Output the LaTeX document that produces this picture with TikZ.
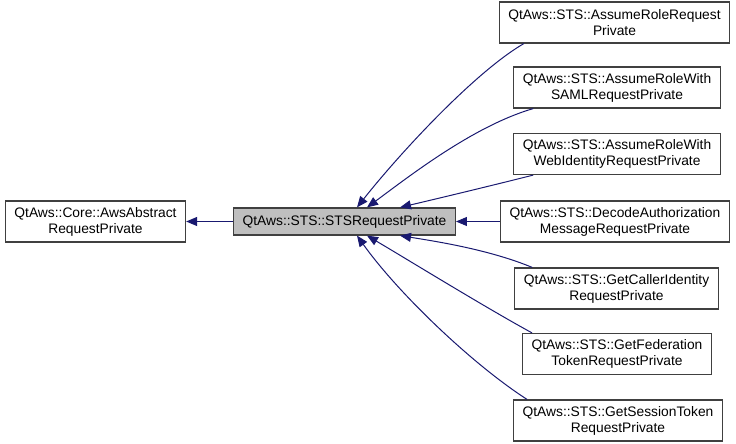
\documentclass[tikz,border=0pt]{standalone}
\usepackage{fontspec}
\setmainfont{Liberation Sans}
\usepackage{tikz}
\usetikzlibrary{arrows.meta}
\definecolor{edgeblue}{RGB}{25,25,112}
\tikzset{
    cls/.style={draw=black!75, line width=1.2pt, fill=white, align=center,
        inner xsep=9pt, inner ysep=2pt, minimum height=41pt,
        font=\fontsize{13.8}{16}\selectfont},
    current/.style={cls, fill=black!25, minimum height=27pt},
    inherit/.style={edgeblue, line width=1pt,
        -{Triangle[length=11pt, width=9pt]}}
}

\begin{document}
\begin{tikzpicture}[x=1pt, y=-1pt]
    \useasboundingbox (0,0) rectangle (736,444);
    \node[cls] (base) at (95.5,221.5) {QtAws::Core::AwsAbstract\\RequestPrivate};
    \node[current] (sts) at (344.5,221.5) {QtAws::STS::STSRequestPrivate};
    \node[cls] (ar) at (614.5,22.5) {QtAws::STS::AssumeRoleRequest\\Private};
    \node[cls] (saml) at (617,87.5) {QtAws::STS::AssumeRoleWith\\SAMLRequestPrivate};
    \node[cls] (webid) at (617,154) {QtAws::STS::AssumeRoleWith\\WebIdentityRequestPrivate};
    \node[cls] (decode) at (615,221.5) {QtAws::STS::DecodeAuthorization\\MessageRequestPrivate};
    \node[cls] (caller) at (616.5,288.5) {QtAws::STS::GetCallerIdentity\\RequestPrivate};
    \node[cls] (fed) at (617,354) {QtAws::STS::GetFederation\\TokenRequestPrivate};
    \node[cls] (session) at (618,420.5) {QtAws::STS::GetSessionToken\\RequestPrivate};

    \draw[inherit] (sts) -- (base);
    \draw[inherit] ([xshift=25pt]ar.south west) .. controls (475,72) and (400,153) .. ([xshift=12.5pt]sts.north);
    \draw[inherit] ([xshift=20pt]saml.south west) .. controls (473,126) and (407,178) .. ([xshift=22.5pt]sts.north);
    \draw[inherit] ([xshift=20pt]webid.south west) .. controls (490,186) and (440,198) .. ([xshift=55.5pt]sts.north);
    \draw[inherit] (decode) -- (sts);
    \draw[inherit] ([xshift=18pt]caller.north west) .. controls (490,250) and (440,242) .. ([xshift=55.5pt]sts.south);
    \draw[inherit] ([xshift=10pt]fed.north west) .. controls (483,306) and (410,261) .. ([xshift=22.5pt]sts.south);
    \draw[inherit] ([xshift=14pt]session.north west) .. controls (472,364) and (398,293) .. ([xshift=12.5pt]sts.south);
\end{tikzpicture}
\end{document}
